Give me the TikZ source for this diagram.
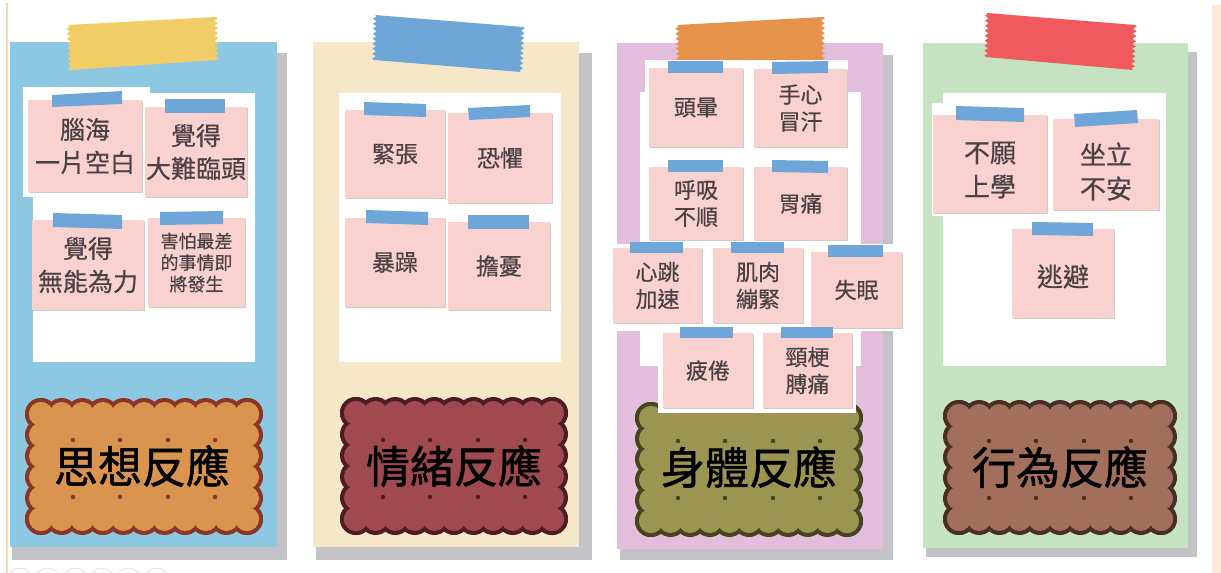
\documentclass[tikz,border=0pt]{standalone}
\usepackage{fontspec}
\newfontfamily\cjk[FakeBold=0.5]{Noto Sans CJK TC}
\newfontfamily\cjkb[FakeBold=1.2]{Noto Sans CJK TC}
\usetikzlibrary{decorations.pathmorphing,shadows}
\definecolor{pblue}{HTML}{8DC8E3}
\definecolor{pcream}{HTML}{F5E7C8}
\definecolor{ppurple}{HTML}{E3BEDC}
\definecolor{pgreen}{HTML}{C5E3C1}
\definecolor{pshadow}{HTML}{C3C2C7}
\definecolor{tyellow}{HTML}{F0CD67}
\definecolor{tblue}{HTML}{6FA6D8}
\definecolor{torange}{HTML}{E5934B}
\definecolor{tred}{HTML}{EF5A5E}
\definecolor{notepink}{HTML}{F9D2D0}
\definecolor{notetape}{HTML}{6FA6DA}
\definecolor{notetext}{HTML}{4A4146}
\definecolor{bfA}{HTML}{D9944F}\definecolor{bbA}{HTML}{8A3526}
\definecolor{bfB}{HTML}{A04A4F}\definecolor{bbB}{HTML}{4E1C22}
\definecolor{bfC}{HTML}{9C9552}\definecolor{bbC}{HTML}{45441F}
\definecolor{bfD}{HTML}{A16F5C}\definecolor{bbD}{HTML}{4A2E26}
\definecolor{peach}{HTML}{FDE9D9}
\tikzset{
  note/.style={fill=notepink, inner sep=0pt, align=center, text=notetext,
    drop shadow={shadow xshift=1.3pt, shadow yshift=-1.3pt, fill=black, opacity=0.2}},
  fA/.style={font=\cjk\fontsize{25}{33}\selectfont},
  fS/.style={font=\cjk\fontsize{18}{21.5}\selectfont},
  fB/.style={font=\cjk\fontsize{23}{30}\selectfont},
  fC/.style={font=\cjk\fontsize{22}{27}\selectfont},
  fD/.style={font=\cjk\fontsize{26}{34}\selectfont, align=center, text=notetext, inner sep=0pt},
  ntape/.style={fill=notetape},
  btext/.style={font=\cjkb\fontsize{44}{44}\selectfont, text=black},
  bdot/.style={radius=2.2pt},
  zz/.style={decoration={zigzag, segment length=5pt, amplitude=1.8pt}}
}
\newcommand{\mytape}[5]{\fill[#5] (#1) -- (#2) decorate[zz]{-- (#3)} -- (#4) decorate[zz]{-- (#1)};}
% scalloped biscuit: outer box x1 y1 x2 y2, fill colour, border colour
\newcommand{\mybiscuit}[6]{%
  \pgfmathsetmacro\bxa{#1+16}\pgfmathsetmacro\bya{#2+16}%
  \pgfmathsetmacro\bxb{#3-16}\pgfmathsetmacro\byb{#4-16}%
  \pgfmathtruncatemacro\bnx{round((\bxb-\bxa)/20)}%
  \pgfmathtruncatemacro\bny{round((\byb-\bya)/20)}%
  \foreach \rr/\cc in {16/#6,12/#5}{%
    \foreach \i in {0,...,\bnx}{%
      \fill[\cc] ({\bxa+(\bxb-\bxa)*\i/\bnx},\bya) circle (\rr);
      \fill[\cc] ({\bxa+(\bxb-\bxa)*\i/\bnx},\byb) circle (\rr);}
    \foreach \j in {0,...,\bny}{%
      \fill[\cc] (\bxa,{\bya+(\byb-\bya)*\j/\bny}) circle (\rr);
      \fill[\cc] (\bxb,{\bya+(\byb-\bya)*\j/\bny}) circle (\rr);}
  }%
  \fill[#5] (\bxa,\bya) rectangle (\bxb,\byb);
}
\begin{document}
\begin{tikzpicture}[x=1pt,y=-1pt]
\useasboundingbox (0,0) rectangle (1221,573);
\fill[white] (0,0) rectangle (1221,573);
% side decorations
\fill[peach] (1212,5) rectangle (1221,573);
\draw[peach!80!orange, line width=1.2pt] (7,3) -- (7,573);
\foreach \cx in {20,47,75,102,129,157}{\draw[black!12, line width=0.8pt] (\cx,580) circle (12);}
% ---------- panels ----------
\fill[pshadow] (12,53) rectangle (287,560);
\fill[pblue] (10,42) rectangle (277,547);
\fill[pshadow] (316,53) rectangle (592,560);
\fill[pcream] (313,42) rectangle (579,547);
\fill[pshadow] (620,55) rectangle (893,560);
\fill[ppurple] (617,43) rectangle (883,549);
\fill[pshadow] (926,52) rectangle (1197,557);
\fill[pgreen] (923,43) rectangle (1188,548);
% ---------- big tapes ----------
\mytape{68,25}{216,17}{217,60}{70,70}{tyellow}
\mytape{375,15}{523,27}{521,72}{374,60}{tblue}
\mytape{677,25}{823,17}{823,60}{678,60}{torange}
\mytape{987,13}{1135,25}{1133,70}{986,57}{tred}
% ---------- column 1 ----------
\fill[white] (23,87) rectangle (150,95);
\fill[white] (23,93) rectangle (255,197);
\fill[white] (33,197) rectangle (255,362);
\node[note, fA, minimum width=114, minimum height=92] (n11) at (85,146) {腦海\\一片空白};
\node[note, fA, minimum width=102, minimum height=90] (n12) at (196,152) {覺得\\大難臨頭};
\node[note, fA, minimum width=112, minimum height=90] (n13) at (88,265) {覺得\\無能為力};
\node[note, fS, minimum width=97, minimum height=89] (n14) at (196.5,262.5) {害怕最差\\的事情即\\將發生};
\fill[ntape] (52,95) -- (122,91) -- (122,104) -- (52,107) -- cycle;
\fill[ntape] (165,99) -- (225,99) -- (225,113) -- (165,113) -- cycle;
\fill[ntape] (53,213) -- (122,215) -- (122,229) -- (53,227) -- cycle;
\fill[ntape] (160,212) -- (223,211) -- (223,224) -- (160,225) -- cycle;
\mybiscuit{25}{398}{263}{535}{bfA}{bbA}
\node[btext] (b1) at (142,466) {思想反應};
\foreach \dx in {-71,-24,24,71}{\fill[bbA] (144+\dx,440) circle[bdot]; \fill[bbA] (144+\dx,497) circle[bdot];}
% ---------- column 2 ----------
\fill[white] (339,93) rectangle (561,362);
\node[note, fB, minimum width=100, minimum height=88] (n21) at (395,154) {緊張};
\node[note, fB, minimum width=104, minimum height=90] (n22) at (500,158) {恐懼};
\node[note, fB, minimum width=100, minimum height=89] (n23) at (395,262.5) {暴躁};
\node[note, fB, minimum width=102, minimum height=88] (n24) at (499,266) {擔憂};
\fill[ntape] (364,102) -- (426,104) -- (426,117) -- (364,115) -- cycle;
\fill[ntape] (468,108) -- (530,105) -- (530,117) -- (469,120) -- cycle;
\fill[ntape] (366,210) -- (428,212) -- (428,225) -- (366,223) -- cycle;
\fill[ntape] (468,215) -- (529,215) -- (529,229) -- (468,229) -- cycle;
\mybiscuit{340}{397}{568}{535}{bfB}{bbB}
\node[btext] (b2) at (454,466) {情緒反應};
\foreach \dx in {-71,-24,24,71}{\fill[bbB] (454+\dx,440) circle[bdot]; \fill[bbB] (454+\dx,497) circle[bdot];}
% ---------- column 3 ----------
\mybiscuit{635}{402}{863}{537}{bfC}{bbC}
\node[btext] (b3) at (749,467) {身體反應};
\foreach \dx in {-71,-24,24,71}{\fill[bbC] (749+\dx,441) circle[bdot]; \fill[bbC] (749+\dx,498) circle[bdot];}
\fill[white] (645,60) rectangle (848,93);
\fill[white] (640,92) rectangle (861,366);
\fill[white] (609,244) rectangle (906,331);
\fill[white] (658,327) rectangle (856,413);
\node[note, fC, minimum width=94, minimum height=79] (n31) at (696,107.5) {頭暈};
\node[note, fC, minimum width=93, minimum height=78] (n32) at (800.5,108) {手心\\冒汗};
\node[note, fC, minimum width=94, minimum height=73] (n33) at (696,203.5) {呼吸\\不順};
\node[note, fC, minimum width=93, minimum height=73] (n34) at (800.5,203.5) {胃痛};
\node[note, fC, minimum width=89, minimum height=75] (n35) at (657.5,285.5) {心跳\\加速};
\node[note, fC, minimum width=90, minimum height=75] (n36) at (758,285.5) {肌肉\\繃緊};
\node[note, fC, minimum width=91, minimum height=76] (n37) at (856.5,290) {失眠};
\node[note, fC, minimum width=90, minimum height=75] (n38) at (708,370.5) {疲倦};
\node[note, fC, minimum width=89, minimum height=75] (n39) at (807.5,370.5) {頸梗\\膊痛};
\fill[ntape] (668,61) rectangle (723,73);
\fill[ntape] (772,62) -- (828,61) -- (828,73) -- (772,74) -- cycle;
\fill[ntape] (668,160) rectangle (723,172);
\fill[ntape] (772,160) -- (828,161) -- (828,173) -- (772,172) -- cycle;
\fill[ntape] (630,242) rectangle (683,253);
\fill[ntape] (731,242) rectangle (784,253);
\fill[ntape] (828,245) rectangle (883,257);
\fill[ntape] (680,327) rectangle (733,338);
\fill[ntape] (781,327) rectangle (833,338);
% ---------- column 4 ----------
\fill[white] (943,93) rectangle (1166,366);
\fill[white] (932,103) rectangle (1050,216);
\node[note, minimum width=114, minimum height=98] (n41) at (990,164) {};
\node[note, minimum width=106, minimum height=91] (n42) at (1106,164.5) {};
\node[note, minimum width=102, minimum height=89] (n43) at (1063,273.5) {};
\node[fD] (n41t) at ([yshift=-6pt]n41.center) {不願\\上學};
\node[fD] (n42t) at ([yshift=-7pt]n42.center) {坐立\\不安};
\node[fD] (n43t) at ([yshift=-3pt]n43.center) {逃避};
\fill[ntape] (956,106) -- (1024,108) -- (1024,122) -- (956,120) -- cycle;
\fill[ntape] (1074,114) -- (1137,110) -- (1138,123) -- (1075,127) -- cycle;
\fill[ntape] (1032,222) -- (1093,223) -- (1093,236) -- (1032,235) -- cycle;
\mybiscuit{943}{400}{1177}{535}{bfD}{bbD}
\node[btext] (b4) at (1060,467) {行為反應};
\foreach \dx in {-71,-24,24,71}{\fill[bbD] (1060+\dx,441) circle[bdot]; \fill[bbD] (1060+\dx,498) circle[bdot];}
\end{tikzpicture}
\end{document}
